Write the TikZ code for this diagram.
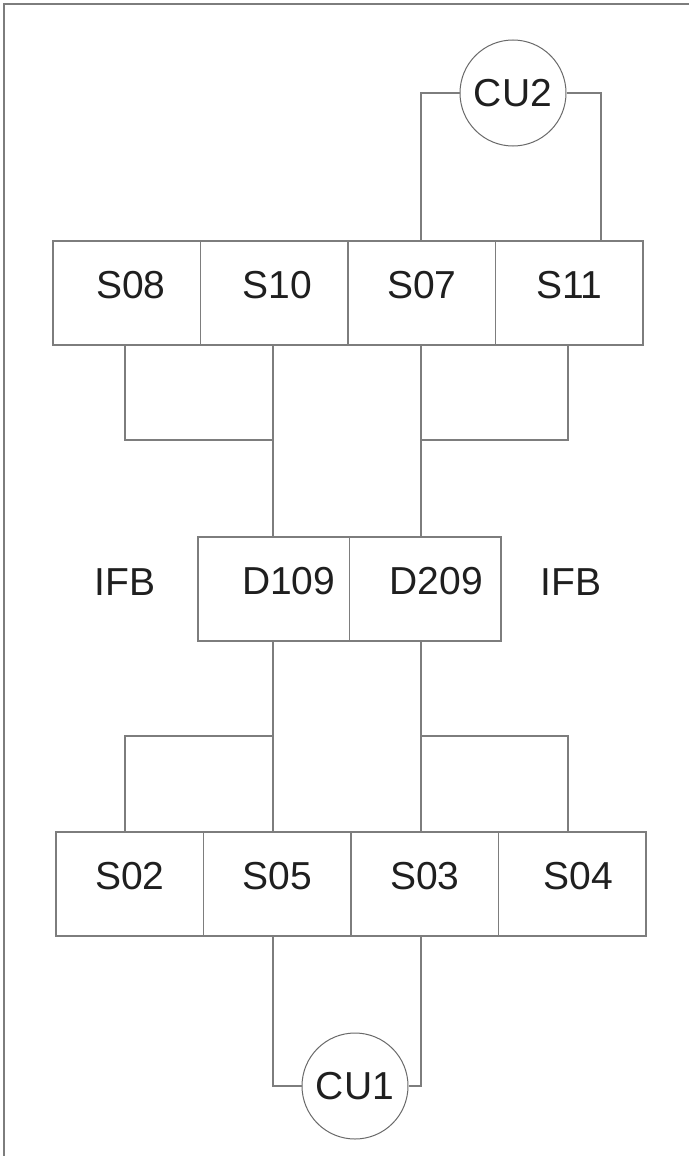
\documentclass[tikz,border=0pt]{standalone}
\usepackage{fontspec}
\setmainfont{Liberation Sans}
\usetikzlibrary{positioning}
\definecolor{linegray}{RGB}{125,125,125}
\definecolor{ringgray}{RGB}{105,105,105}

\begin{document}
\begin{tikzpicture}[x=0.5pt,y=-0.5pt,
	every node/.style={font=\fontsize{19.5}{23}\selectfont,text=black!88},
	box/.style={draw=linegray,line width=0.6pt,minimum width=73.75pt,
		minimum height=52pt,inner sep=0pt,outer sep=0pt,text depth=8pt},
	dbox/.style={box,minimum width=75.75pt},
	unit/.style={circle,draw=ringgray,line width=0.5pt,minimum size=53pt,inner sep=0pt},
	wire/.style={draw=linegray,line width=0.6pt}]
\useasboundingbox (0,0) rectangle (689,1156);
\draw[linegray,line width=0.8pt] (4,1156) -- (4,4) -- (689,4);

% columns of the wires
\coordinate (w1) at (125,0);
\coordinate (w2) at (273,0);
\coordinate (w3) at (421,0);
\coordinate (w4) at (568,0);
\coordinate (wr) at (601,0);
\coordinate (jt) at (0,440);
\coordinate (jb) at (0,736);

\node[unit] (cu2) at (513,93) {CU2};

% upper row
\node[box] (s08) at (126.75,293) {\hspace*{4pt}S08};
\node[box,right=0pt of s08] (s10) {\hspace*{3pt}S10};
\node[box,right=0pt of s10] (s07) {S07};
\node[box,right=0pt of s07] (s11) {S11};

% middle
\node[dbox] (d109) at (273.75,589) {\hspace*{15pt}D109};
\node[dbox,right=0pt of d109] (d209) {\hspace*{11pt}D209};
\node (ifb1) at (125,582) {IFB};
\node (ifb2) at (571,582) {IFB};

% lower row
\node[box] (s02) at (129.75,884) {S02};
\node[box,right=0pt of s02] (s05) {S05};
\node[box,right=0pt of s05] (s03) {S03};
\node[box,right=0pt of s03] (s04) {\hspace*{6pt}S04};

\node[unit] (cu1) at (355,1086) {CU1};

\draw[wire] (cu2.west) -| (w3 |- s07.north);
\draw[wire] (cu2.east) -| (wr |- s11.north);
\draw[wire] (w1 |- s08.south) |- (w2 |- jt);
\draw[wire] (w2 |- s10.south) -- (w2 |- d109.north);
\draw[wire] (w4 |- s11.south) |- (w3 |- jt);
\draw[wire] (w3 |- s07.south) -- (w3 |- d209.north);
\draw[wire] (w2 |- d109.south) -- (w2 |- s05.north);
\draw[wire] (w3 |- d209.south) -- (w3 |- s03.north);
\draw[wire] (w2 |- jb) -| (w1 |- s02.north);
\draw[wire] (w3 |- jb) -| (w4 |- s04.north);
\draw[wire] (w2 |- s05.south) |- (cu1.west);
\draw[wire] (w3 |- s03.south) |- (cu1.east);
\end{tikzpicture}
\end{document}
